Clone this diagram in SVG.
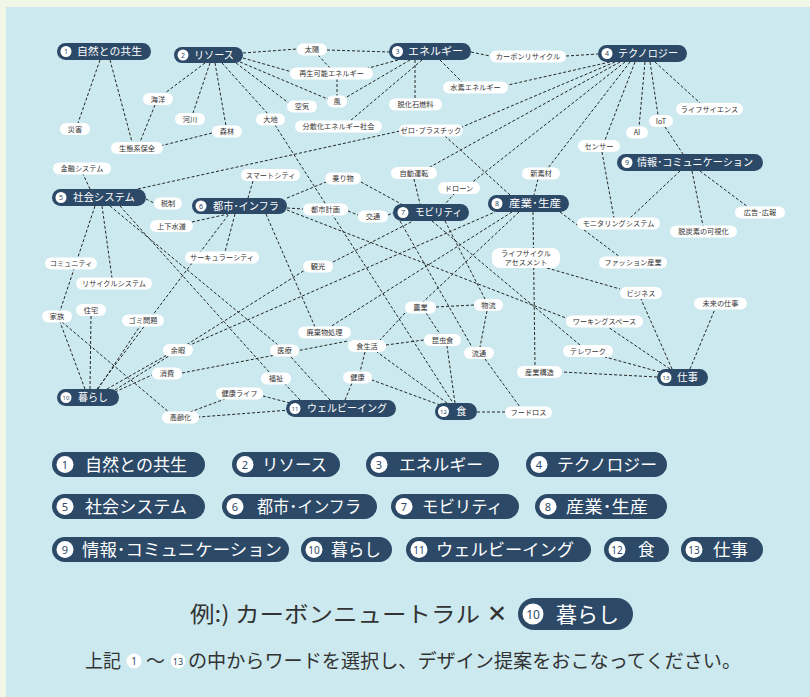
<svg xmlns="http://www.w3.org/2000/svg" width="810" height="697" viewBox="0 0 810 697">
<defs>
<style>
.bg{fill:#f1f6e6}
.panel{fill:#cbe9ee}
.mp{fill:#2c4a68}
.mt{font-family:"Noto Sans CJK JP","Noto Sans",sans-serif;font-size:10.5px;fill:#ffffff}
.nc{fill:#ffffff}
.nn{font-family:"Noto Sans","Noto Sans CJK JP",sans-serif;font-size:7px;fill:#2c4a68;text-anchor:middle}
.sp{fill:#ffffff}
.st{font-family:"Noto Sans CJK JP","Noto Sans",sans-serif;font-size:7.2px;fill:#333333;text-anchor:middle}
.ln line{stroke:#262626;stroke-width:1;stroke-dasharray:3 2;fill:none}
.lt{font-family:"Noto Sans CJK JP","Noto Sans",sans-serif;font-size:16.5px;fill:#ffffff}
.ln2{font-family:"Noto Sans","Noto Sans CJK JP",sans-serif;font-size:11px;fill:#2c4a68;text-anchor:middle}
.bt{font-family:"Noto Sans CJK JP","Noto Sans",sans-serif;fill:#333333}
</style>
</defs>
<rect class="bg" x="0" y="0" width="810" height="697"/>
<rect class="panel" x="6" y="7" width="804" height="690"/>
<g id="connectors" class="ln">
<line x1="100" y1="60" x2="78" y2="123"/>
<line x1="110" y1="60" x2="132" y2="142"/>
<line x1="155" y1="105" x2="140" y2="142"/>
<line x1="212" y1="133" x2="160" y2="146"/>
<line x1="205" y1="63" x2="165" y2="93"/>
<line x1="210" y1="63" x2="193" y2="113"/>
<line x1="215" y1="63" x2="226" y2="126"/>
<line x1="222" y1="63" x2="268" y2="114"/>
<line x1="243" y1="53" x2="297" y2="49"/>
<line x1="243" y1="58" x2="292" y2="72"/>
<line x1="240" y1="62" x2="330" y2="100"/>
<line x1="236" y1="63" x2="290" y2="104"/>
<line x1="327" y1="50" x2="390" y2="52"/>
<line x1="318" y1="55" x2="330" y2="68"/>
<line x1="337" y1="79" x2="337" y2="96"/>
<line x1="398" y1="60" x2="365" y2="69"/>
<line x1="410" y1="60" x2="345" y2="98"/>
<line x1="415" y1="60" x2="415" y2="99"/>
<line x1="422" y1="60" x2="350" y2="121"/>
<line x1="440" y1="60" x2="462" y2="82"/>
<line x1="471" y1="52" x2="490" y2="56"/>
<line x1="566" y1="56" x2="598" y2="54"/>
<line x1="610" y1="62" x2="508" y2="85"/>
<line x1="615" y1="62" x2="462" y2="127"/>
<line x1="620" y1="62" x2="430" y2="167"/>
<line x1="625" y1="62" x2="470" y2="184"/>
<line x1="630" y1="62" x2="548" y2="168"/>
<line x1="635" y1="62" x2="605" y2="140"/>
<line x1="645" y1="62" x2="639" y2="127"/>
<line x1="650" y1="62" x2="658" y2="115"/>
<line x1="655" y1="62" x2="700" y2="103"/>
<line x1="665" y1="127" x2="683" y2="154"/>
<line x1="680" y1="171" x2="630" y2="218"/>
<line x1="692" y1="171" x2="703" y2="226"/>
<line x1="700" y1="171" x2="748" y2="207"/>
<line x1="602" y1="152" x2="614" y2="218"/>
<line x1="538" y1="179" x2="534" y2="195"/>
<line x1="560" y1="212" x2="620" y2="257"/>
<line x1="533" y1="212" x2="535" y2="366"/>
<line x1="510" y1="195" x2="445" y2="136"/>
<line x1="519" y1="212" x2="423" y2="302"/>
<line x1="512" y1="212" x2="330" y2="327"/>
<line x1="547" y1="268" x2="620" y2="289"/>
<line x1="90" y1="189" x2="83" y2="174"/>
<line x1="146" y1="199" x2="154" y2="203"/>
<line x1="133" y1="190" x2="400" y2="131"/>
<line x1="95" y1="206" x2="60" y2="311"/>
<line x1="102" y1="206" x2="112" y2="278"/>
<line x1="110" y1="206" x2="278" y2="345"/>
<line x1="120" y1="206" x2="270" y2="373"/>
<line x1="253" y1="181" x2="248" y2="198"/>
<line x1="192" y1="222" x2="228" y2="214"/>
<line x1="287" y1="198" x2="326" y2="182"/>
<line x1="361" y1="182" x2="403" y2="205"/>
<line x1="287" y1="208" x2="303" y2="209"/>
<line x1="348" y1="211" x2="358" y2="215"/>
<line x1="388" y1="215" x2="393" y2="213"/>
<line x1="414" y1="179" x2="420" y2="204"/>
<line x1="455" y1="193" x2="445" y2="204"/>
<line x1="432" y1="221" x2="580" y2="345"/>
<line x1="333" y1="262" x2="413" y2="221"/>
<line x1="235" y1="214" x2="225" y2="252"/>
<line x1="85" y1="389" x2="60" y2="322"/>
<line x1="90" y1="389" x2="91" y2="316"/>
<line x1="98" y1="389" x2="140" y2="326"/>
<line x1="107" y1="389" x2="167" y2="355"/>
<line x1="183" y1="348" x2="495" y2="212"/>
<line x1="115" y1="392" x2="152" y2="375"/>
<line x1="182" y1="373" x2="348" y2="341"/>
<line x1="290" y1="403" x2="263" y2="396"/>
<line x1="290" y1="410" x2="199" y2="417"/>
<line x1="330" y1="400" x2="290" y2="356"/>
<line x1="300" y1="400" x2="285" y2="384"/>
<line x1="345" y1="400" x2="352" y2="383"/>
<line x1="190" y1="412" x2="225" y2="399"/>
<line x1="62" y1="322" x2="170" y2="413"/>
<line x1="447" y1="403" x2="377" y2="352"/>
<line x1="455" y1="403" x2="447" y2="346"/>
<line x1="440" y1="405" x2="372" y2="380"/>
<line x1="477" y1="412" x2="505" y2="412"/>
<line x1="436" y1="307" x2="474" y2="305"/>
<line x1="426" y1="313" x2="440" y2="334"/>
<line x1="405" y1="313" x2="380" y2="340"/>
<line x1="386" y1="345" x2="424" y2="340"/>
<line x1="365" y1="352" x2="360" y2="372"/>
<line x1="487" y1="311" x2="480" y2="347"/>
<line x1="485" y1="359" x2="520" y2="407"/>
<line x1="275" y1="125" x2="453" y2="403"/>
<line x1="400" y1="221" x2="472" y2="347"/>
<line x1="445" y1="221" x2="485" y2="299"/>
<line x1="672" y1="369" x2="641" y2="299"/>
<line x1="690" y1="369" x2="715" y2="309"/>
<line x1="670" y1="369" x2="608" y2="327"/>
<line x1="660" y1="372" x2="605" y2="357"/>
<line x1="657" y1="377" x2="562" y2="372"/>
<line x1="266" y1="214" x2="315" y2="327"/>
<line x1="115" y1="390" x2="305" y2="270"/>
<line x1="287" y1="210" x2="566" y2="318"/>
<line x1="97" y1="389" x2="229" y2="214"/>
</g>
<g id="n1"><rect class="mp" x="57" y="43" width="94" height="17" rx="8.5"/><circle class="nc" cx="66" cy="51.5" r="5.5"/><text class="nn" x="66" y="54">1</text><text class="mt" x="77" y="55.3" textLength="65" lengthAdjust="spacingAndGlyphs">自然との共生</text></g>
<g id="n2"><rect class="mp" x="174" y="47" width="69" height="16" rx="8"/><circle class="nc" cx="183" cy="55" r="5.5"/><text class="nn" x="183" y="57.5">2</text><text class="mt" x="194" y="58.8" textLength="40" lengthAdjust="spacingAndGlyphs">リソース</text></g>
<g id="n3"><rect class="mp" x="389" y="43" width="82" height="17" rx="8.5"/><circle class="nc" cx="397.5" cy="51.5" r="5.5"/><text class="nn" x="397.5" y="54">3</text><text class="mt" x="408" y="55.3" textLength="55" lengthAdjust="spacingAndGlyphs">エネルギー</text></g>
<g id="n4"><rect class="mp" x="598" y="45" width="89" height="17" rx="8.5"/><circle class="nc" cx="607" cy="53.5" r="5.5"/><text class="nn" x="607" y="56">4</text><text class="mt" x="618" y="57.3" textLength="60" lengthAdjust="spacingAndGlyphs">テクノロジー</text></g>
<g id="n5"><rect class="mp" x="52" y="189" width="94" height="17" rx="8.5"/><circle class="nc" cx="61" cy="197.5" r="5.5"/><text class="nn" x="61" y="200">5</text><text class="mt" x="73" y="201.3" textLength="62" lengthAdjust="spacingAndGlyphs">社会システム</text></g>
<g id="n6"><rect class="mp" x="192" y="198" width="95" height="16" rx="8"/><circle class="nc" cx="201" cy="206" r="5.5"/><text class="nn" x="201" y="208.5">6</text><text class="mt" x="213" y="209.8" textLength="66" lengthAdjust="spacingAndGlyphs">都市･インフラ</text></g>
<g id="n7"><rect class="mp" x="393" y="204" width="76" height="17" rx="8.5"/><circle class="nc" cx="403" cy="212.5" r="5.5"/><text class="nn" x="403" y="215">7</text><text class="mt" x="415" y="216.3" textLength="47" lengthAdjust="spacingAndGlyphs">モビリティ</text></g>
<g id="n8"><rect class="mp" x="488" y="195" width="81" height="17" rx="8.5"/><circle class="nc" cx="497" cy="203.5" r="5.5"/><text class="nn" x="497" y="206">8</text><text class="mt" x="509" y="207.3" textLength="52" lengthAdjust="spacingAndGlyphs">産業･生産</text></g>
<g id="n9"><rect class="mp" x="617" y="154" width="146" height="17" rx="8.5"/><circle class="nc" cx="627" cy="162.5" r="5.5"/><text class="nn" x="627" y="165">9</text><text class="mt" x="637" y="166.3" textLength="116" lengthAdjust="spacingAndGlyphs">情報･コミュニケーション</text></g>
<g id="n10"><rect class="mp" x="57" y="389" width="62" height="17" rx="8.5"/><circle class="nc" cx="66" cy="397.5" r="5.5"/><text class="nn" x="66" y="400" style="font-size:6px">10</text><text class="mt" x="78" y="401.3" textLength="30" lengthAdjust="spacingAndGlyphs">暮らし</text></g>
<g id="n11"><rect class="mp" x="286" y="400" width="110" height="17" rx="8.5"/><circle class="nc" cx="295" cy="408.5" r="5.5"/><text class="nn" x="295" y="411" style="font-size:6px">11</text><text class="mt" x="307" y="412.3" textLength="80" lengthAdjust="spacingAndGlyphs">ウェルビーイング</text></g>
<g id="n12"><rect class="mp" x="435" y="403" width="42" height="17" rx="8.5"/><circle class="nc" cx="443.5" cy="411.5" r="5.5"/><text class="nn" x="443.5" y="414" style="font-size:6px">12</text><text class="mt" x="456" y="415.3">食</text></g>
<g id="n13"><rect class="mp" x="657" y="369" width="51" height="17" rx="8.5"/><circle class="nc" cx="666" cy="377.5" r="5.5"/><text class="nn" x="666" y="380" style="font-size:6px">13</text><text class="mt" x="677" y="381.3" textLength="21" lengthAdjust="spacingAndGlyphs">仕事</text></g>
<g id="k-kaiyou"><rect class="sp" x="143" y="93" width="30" height="12" rx="6"/><text class="st" x="158" y="101.6">海洋</text></g>
<g id="k-saigai"><rect class="sp" x="60" y="123" width="30" height="12" rx="6"/><text class="st" x="75" y="131.6">災害</text></g>
<g id="k-kasen"><rect class="sp" x="175" y="113" width="30" height="12" rx="6"/><text class="st" x="190" y="121.6">河川</text></g>
<g id="k-shinrin"><rect class="sp" x="212" y="125.5" width="30" height="12" rx="6"/><text class="st" x="227" y="134.1">森林</text></g>
<g id="k-daichi"><rect class="sp" x="256" y="113.5" width="29" height="12" rx="6"/><text class="st" x="270.5" y="122.1">大地</text></g>
<g id="k-seitaikei"><rect class="sp" x="111" y="142" width="52" height="12" rx="6"/><text class="st" x="137" y="150.6">生態系保全</text></g>
<g id="k-taiyou"><rect class="sp" x="297" y="43.5" width="30" height="12" rx="6"/><text class="st" x="312" y="52.1">太陽</text></g>
<g id="k-saisei"><rect class="sp" x="290" y="67.5" width="83" height="12" rx="6"/><text class="st" x="331.5" y="76.1">再生可能エネルギー</text></g>
<g id="k-kaze"><rect class="sp" x="327" y="95.5" width="20" height="12" rx="6"/><text class="st" x="337" y="104.1">風</text></g>
<g id="k-kuuki"><rect class="sp" x="287" y="100.5" width="30" height="12" rx="6"/><text class="st" x="302" y="109.1">空気</text></g>
<g id="k-datsukaseki"><rect class="sp" x="389" y="98.5" width="53" height="12" rx="6"/><text class="st" x="415.5" y="107.1">脱化石燃料</text></g>
<g id="k-bunsan"><rect class="sp" x="295" y="120.5" width="87" height="12" rx="6"/><text class="st" x="338.5" y="129.1">分散化エネルギー社会</text></g>
<g id="k-suiso"><rect class="sp" x="443" y="81.5" width="65" height="12" rx="6"/><text class="st" x="475.5" y="90.1">水素エネルギー</text></g>
<g id="k-zero"><rect class="sp" x="399" y="124.5" width="64" height="12" rx="6"/><text class="st" x="431" y="133.1">ゼロ･プラスチック</text></g>
<g id="k-carbon"><rect class="sp" x="490" y="50.5" width="76" height="12" rx="6"/><text class="st" x="528" y="59.1">カーボンリサイクル</text></g>
<g id="k-life"><rect class="sp" x="676" y="103" width="67" height="12" rx="6"/><text class="st" x="709.5" y="111.6">ライフサイエンス</text></g>
<g id="k-iot"><rect class="sp" x="649" y="115" width="24" height="12" rx="6"/><text class="st" x="661" y="123.6">IoT</text></g>
<g id="k-ai"><rect class="sp" x="626" y="126.5" width="22" height="12" rx="6"/><text class="st" x="637" y="135.1">AI</text></g>
<g id="k-sensor"><rect class="sp" x="578" y="140" width="42" height="12" rx="6"/><text class="st" x="599" y="148.6">センサー</text></g>
<g id="k-kinyu"><rect class="sp" x="53" y="162.5" width="58" height="12" rx="6"/><text class="st" x="82" y="171.1">金融システム</text></g>
<g id="k-smart"><rect class="sp" x="241" y="169" width="59" height="12" rx="6"/><text class="st" x="270.5" y="177.6">スマートシティ</text></g>
<g id="k-zeisei"><rect class="sp" x="154" y="197.5" width="28" height="12" rx="6"/><text class="st" x="168" y="206.1">税制</text></g>
<g id="k-jouge"><rect class="sp" x="150" y="220" width="43" height="12" rx="6"/><text class="st" x="171.5" y="228.6">上下水道</text></g>
<g id="k-community"><rect class="sp" x="45" y="257.5" width="52" height="12" rx="6"/><text class="st" x="71" y="266.1">コミュニティ</text></g>
<g id="k-circular"><rect class="sp" x="185" y="251.5" width="74" height="12" rx="6"/><text class="st" x="222" y="260.1">サーキュラーシティ</text></g>
<g id="k-norimono"><rect class="sp" x="325" y="172.5" width="36" height="12" rx="6"/><text class="st" x="343" y="181.1">乗り物</text></g>
<g id="k-jidou"><rect class="sp" x="391" y="167" width="46" height="12" rx="6"/><text class="st" x="414" y="175.6">自動運転</text></g>
<g id="k-drone"><rect class="sp" x="438" y="182" width="42" height="12" rx="6"/><text class="st" x="459" y="190.6">ドローン</text></g>
<g id="k-shinsozai"><rect class="sp" x="522" y="167.5" width="38" height="12" rx="6"/><text class="st" x="541" y="176.1">新素材</text></g>
<g id="k-toshikeikaku"><rect class="sp" x="303" y="203.5" width="45" height="12" rx="6"/><text class="st" x="325.5" y="212.1">都市計画</text></g>
<g id="k-koutsu"><rect class="sp" x="358" y="210.5" width="30" height="12" rx="6"/><text class="st" x="373" y="219.1">交通</text></g>
<g id="k-kankou"><rect class="sp" x="303" y="260.5" width="30" height="12" rx="6"/><text class="st" x="318" y="269.1">観光</text></g>
<g id="k-lca"><rect class="sp" x="492" y="248" width="68" height="20" rx="8"/><text class="st" x="526" y="256.2">ライフサイクル</text><text class="st" x="526" y="265">アセスメント</text></g>
<g id="k-monitor"><rect class="sp" x="577" y="217.5" width="83" height="12" rx="6"/><text class="st" x="618.5" y="226.1">モニタリングシステム</text></g>
<g id="k-datsutanso"><rect class="sp" x="670" y="225.5" width="67" height="12" rx="6"/><text class="st" x="703.5" y="234.1">脱炭素の可視化</text></g>
<g id="k-koukoku"><rect class="sp" x="735" y="206.5" width="50" height="12" rx="6"/><text class="st" x="760" y="215.1">広告･広報</text></g>
<g id="k-fashion"><rect class="sp" x="599" y="256.5" width="68" height="12" rx="6"/><text class="st" x="633" y="265.1">ファッション産業</text></g>
<g id="k-recycle"><rect class="sp" x="76" y="277.5" width="76" height="12" rx="6"/><text class="st" x="114" y="286.1">リサイクルシステム</text></g>
<g id="k-jutaku"><rect class="sp" x="76" y="304" width="30" height="12" rx="6"/><text class="st" x="91" y="312.6">住宅</text></g>
<g id="k-kazoku"><rect class="sp" x="42" y="310.5" width="30" height="12" rx="6"/><text class="st" x="57" y="319.1">家族</text></g>
<g id="k-gomi"><rect class="sp" x="122" y="314.5" width="42" height="12" rx="6"/><text class="st" x="143" y="323.1">ゴミ問題</text></g>
<g id="k-yoka"><rect class="sp" x="163" y="344" width="30" height="12" rx="6"/><text class="st" x="178" y="352.6">余暇</text></g>
<g id="k-shouhi"><rect class="sp" x="152" y="367.5" width="30" height="12" rx="6"/><text class="st" x="167" y="376.1">消費</text></g>
<g id="k-iryou"><rect class="sp" x="270" y="344.5" width="29" height="12" rx="6"/><text class="st" x="284.5" y="353.1">医療</text></g>
<g id="k-fukushi"><rect class="sp" x="261" y="372.5" width="30" height="12" rx="6"/><text class="st" x="276" y="381.1">福祉</text></g>
<g id="k-kenkoulife"><rect class="sp" x="216" y="387.5" width="47" height="12" rx="6"/><text class="st" x="239.5" y="396.1">健康ライフ</text></g>
<g id="k-koureika"><rect class="sp" x="162" y="411.5" width="37" height="12" rx="6"/><text class="st" x="180.5" y="420.1">高齢化</text></g>
<g id="k-nougyou"><rect class="sp" x="405" y="301.5" width="31" height="12" rx="6"/><text class="st" x="420.5" y="310.1">農業</text></g>
<g id="k-butsuryu"><rect class="sp" x="474" y="299" width="29" height="12" rx="6"/><text class="st" x="488.5" y="307.6">物流</text></g>
<g id="k-haiki"><rect class="sp" x="298" y="326.5" width="53" height="12" rx="6"/><text class="st" x="324.5" y="335.1">廃棄物処理</text></g>
<g id="k-shokuseikatsu"><rect class="sp" x="348" y="340" width="38" height="12" rx="6"/><text class="st" x="367" y="348.6">食生活</text></g>
<g id="k-konchu"><rect class="sp" x="424" y="334" width="37" height="12" rx="6"/><text class="st" x="442.5" y="342.6">昆虫食</text></g>
<g id="k-ryutsu"><rect class="sp" x="464" y="347" width="30" height="12" rx="6"/><text class="st" x="479" y="355.6">流通</text></g>
<g id="k-kenkou"><rect class="sp" x="343" y="371.5" width="29" height="12" rx="6"/><text class="st" x="357.5" y="380.1">健康</text></g>
<g id="k-foodloss"><rect class="sp" x="505" y="406.5" width="47" height="12" rx="6"/><text class="st" x="528.5" y="415.1">フードロス</text></g>
<g id="k-sangyoukouzou"><rect class="sp" x="517" y="366" width="45" height="12" rx="6"/><text class="st" x="539.5" y="374.6">産業構造</text></g>
<g id="k-business"><rect class="sp" x="620" y="287" width="42" height="12" rx="6"/><text class="st" x="641" y="295.6">ビジネス</text></g>
<g id="k-mirai"><rect class="sp" x="694" y="297.5" width="53" height="12" rx="6"/><text class="st" x="720.5" y="306.1">未来の仕事</text></g>
<g id="k-working"><rect class="sp" x="566" y="315.5" width="77" height="12" rx="6"/><text class="st" x="604.5" y="324.1">ワーキングスペース</text></g>
<g id="k-telework"><rect class="sp" x="563" y="345" width="50" height="12" rx="6"/><text class="st" x="588" y="353.6">テレワーク</text></g>
<g id="legend">
<g id="lg1"><rect class="mp" x="52" y="452" width="153" height="25" rx="12.5"/><circle class="nc" cx="65" cy="464.5" r="8.5"/><text class="ln2" x="65" y="468.5">1</text><text class="lt" x="85" y="470.5" textLength="102" lengthAdjust="spacingAndGlyphs">自然との共生</text></g>
<g id="lg2"><rect class="mp" x="232" y="452" width="108" height="25" rx="12.5"/><circle class="nc" cx="245" cy="464.5" r="8.5"/><text class="ln2" x="245" y="468.5">2</text><text class="lt" x="262" y="470.5" textLength="65" lengthAdjust="spacingAndGlyphs">リソース</text></g>
<g id="lg3"><rect class="mp" x="366" y="452" width="133" height="25" rx="12.5"/><circle class="nc" cx="379" cy="464.5" r="8.5"/><text class="ln2" x="379" y="468.5">3</text><text class="lt" x="399" y="470.5" textLength="84" lengthAdjust="spacingAndGlyphs">エネルギー</text></g>
<g id="lg4"><rect class="mp" x="526" y="452" width="141" height="25" rx="12.5"/><circle class="nc" cx="539" cy="464.5" r="8.5"/><text class="ln2" x="539" y="468.5">4</text><text class="lt" x="557" y="470.5" textLength="100" lengthAdjust="spacingAndGlyphs">テクノロジー</text></g>
<g id="lg5"><rect class="mp" x="52" y="494" width="153" height="25" rx="12.5"/><circle class="nc" cx="65" cy="506.5" r="8.5"/><text class="ln2" x="65" y="510.5">5</text><text class="lt" x="85" y="512.5" textLength="102" lengthAdjust="spacingAndGlyphs">社会システム</text></g>
<g id="lg6"><rect class="mp" x="222" y="494" width="155" height="25" rx="12.5"/><circle class="nc" cx="235" cy="506.5" r="8.5"/><text class="ln2" x="235" y="510.5">6</text><text class="lt" x="257" y="512.5" textLength="104" lengthAdjust="spacingAndGlyphs">都市･インフラ</text></g>
<g id="lg7"><rect class="mp" x="391" y="494" width="128" height="25" rx="12.5"/><circle class="nc" cx="404" cy="506.5" r="8.5"/><text class="ln2" x="404" y="510.5">7</text><text class="lt" x="422" y="512.5" textLength="81" lengthAdjust="spacingAndGlyphs">モビリティ</text></g>
<g id="lg8"><rect class="mp" x="535" y="494" width="132" height="25" rx="12.5"/><circle class="nc" cx="548" cy="506.5" r="8.5"/><text class="ln2" x="548" y="510.5">8</text><text class="lt" x="566" y="512.5" textLength="82" lengthAdjust="spacingAndGlyphs">産業･生産</text></g>
<g id="lg9"><rect class="mp" x="52" y="537" width="237" height="25" rx="12.5"/><circle class="nc" cx="65" cy="549.5" r="8.5"/><text class="ln2" x="65" y="553.5">9</text><text class="lt" x="82" y="555.5" textLength="200" lengthAdjust="spacingAndGlyphs">情報･コミュニケーション</text></g>
<g id="lg10"><rect class="mp" x="301" y="537" width="91" height="25" rx="12.5"/><circle class="nc" cx="314" cy="549.5" r="8.5"/><text class="ln2" x="314" y="553.5" style="font-size:10px">10</text><text class="lt" x="331" y="555.5" textLength="50" lengthAdjust="spacingAndGlyphs">暮らし</text></g>
<g id="lg11"><rect class="mp" x="406" y="537" width="185" height="25" rx="12.5"/><circle class="nc" cx="419" cy="549.5" r="8.5"/><text class="ln2" x="419" y="553.5" style="font-size:10px">11</text><text class="lt" x="436" y="555.5" textLength="138" lengthAdjust="spacingAndGlyphs">ウェルビーイング</text></g>
<g id="lg12"><rect class="mp" x="604" y="537" width="65" height="25" rx="12.5"/><circle class="nc" cx="617" cy="549.5" r="8.5"/><text class="ln2" x="617" y="553.5" style="font-size:10px">12</text><text class="lt" x="638" y="555.5">食</text></g>
<g id="lg13"><rect class="mp" x="681" y="537" width="82" height="25" rx="12.5"/><circle class="nc" cx="694" cy="549.5" r="8.5"/><text class="ln2" x="694" y="553.5" style="font-size:10px">13</text><text class="lt" x="713" y="555.5" textLength="35" lengthAdjust="spacingAndGlyphs">仕事</text></g>
</g>
<g id="example">
<text class="bt" x="190" y="622" style="font-size:22px" textLength="290" lengthAdjust="spacingAndGlyphs">例:) カーボンニュートラル</text>
<text x="487" y="622" style="font-family:'DejaVu Sans',sans-serif;font-size:24px;font-weight:bold;fill:#333333">✕</text>
<rect class="mp" x="518" y="598" width="115" height="32" rx="16"/>
<circle class="nc" cx="533" cy="614" r="10.5"/>
<text class="ln2" x="533" y="618.5" style="font-size:12px">10</text>
<text class="lt" x="556" y="621.5" style="font-size:21px" textLength="63" lengthAdjust="spacingAndGlyphs">暮らし</text>
</g>
<g id="instruction">
<text class="bt" x="85" y="668" style="font-size:19px" textLength="36" lengthAdjust="spacingAndGlyphs">上記</text>
<circle class="nc" cx="134" cy="661" r="7.5"/>
<text class="ln2" x="134" y="664.5" style="font-size:10px">1</text>
<text class="bt" x="146" y="668" style="font-size:19px">〜</text>
<circle class="nc" cx="178" cy="661" r="7.5"/>
<text class="ln2" x="178" y="664.5" style="font-size:9px">13</text>
<text class="bt" x="188" y="668" style="font-size:19px" textLength="553" lengthAdjust="spacingAndGlyphs">の中からワードを選択し、デザイン提案をおこなってください。</text>
</g>
</svg>
